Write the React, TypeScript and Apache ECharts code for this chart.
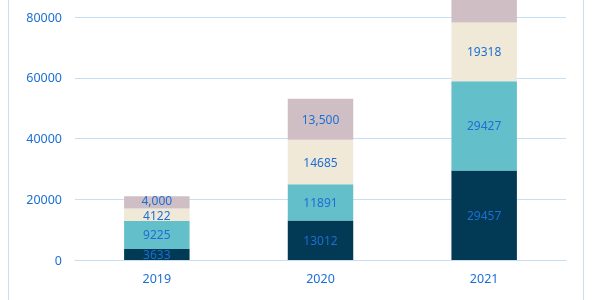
import React, { useEffect, useRef } from "react";
import * as echarts from "echarts";

const categories = ["2019", "2020", "2021"];
const seriesA = [3633, 13012, 29457];
const seriesB = [9225, 11891, 29427];
const seriesC = [4122, 14685, 19318];
const seriesD = [4000, 13500, 24000];
const yTicks = { min: 0, max: 80000, interval: 20000 };

const colors = ["#023a56", "#63bfca", "#f0e9d8", "#cfbfc5"];
const labelColor = "#1c6fd3";
const font = "'Noto Sans', 'Open Sans', sans-serif";

export default function App() {
  const ref = useRef<HTMLDivElement>(null);
  useEffect(() => {
    if (!ref.current) return;
    const chart = echarts.init(ref.current, null, { renderer: "svg" });
    const yMax = yTicks.max;
    const mk = (
      name: string,
      data: number[],
      i: number,
      comma: boolean,
      base: number[],
      nudge: number
    ) => ({
      name,
      type: "bar",
      stack: "total",
      data: data.map((v, k) => ({
        value: v,
        // a label whose centre lies above the plot top is off the page in the reference
        label: {
          show: base[k] + v / 2 <= yMax,
          // thin segments: spread neighbouring labels apart a little
          offset: [0, v < 6000 ? nudge : 0],
        },
      })),
      barWidth: "40%",
      clip: false,
      itemStyle: { color: colors[i] },
      label: {
        show: true,
        position: "inside",
        color: labelColor,
        fontSize: 12,
        lineHeight: 11,
        fontFamily: font,
        formatter: (p: any) =>
          comma ? Number(p.value).toLocaleString("en-US") : String(p.value),
      },
    });
    const zero = categories.map(() => 0);
    const baseB = seriesA.slice();
    const baseC = seriesA.map((v, k) => v + seriesB[k]);
    const baseD = baseC.map((v, k) => v + seriesC[k]);
    chart.setOption({
      animation: false,
      grid: { left: 75, right: 28, top: 17, bottom: 40 },
      xAxis: {
        type: "category",
        data: categories,
        axisLine: { show: true, lineStyle: { color: "#c5dff5" } },
        axisTick: { show: false },
        axisLabel: { color: labelColor, fontSize: 12.5, fontFamily: font, margin: 12 },
      },
      yAxis: {
        type: "value",
        min: yTicks.min,
        max: yTicks.max,
        interval: yTicks.interval,
        axisLine: { show: false },
        axisTick: { show: false },
        splitLine: { lineStyle: { color: "#c5dff5" } },
        axisLabel: {
          color: labelColor,
          fontSize: 12.5,
          fontFamily: font,
          margin: 13,
          formatter: (v: number) => String(v),
        },
      },
      graphic: [
        { type: "line", shape: { x1: 8.5, y1: 0, x2: 8.5, y2: 300 }, style: { stroke: "#c5dff5", lineWidth: 1 } },
        { type: "line", shape: { x1: 583.5, y1: 0, x2: 583.5, y2: 300 }, style: { stroke: "#c5dff5", lineWidth: 1 } },
      ],
      series: [
        mk("A", seriesA, 0, false, zero, 0),
        mk("B", seriesB, 1, false, baseB, 0),
        mk("C", seriesC, 2, false, baseC, 1),
        mk("D", seriesD, 3, true, baseD, -2),
      ],
    });
    return () => chart.dispose();
  }, []);
  return (
    <div
      ref={ref}
      style={{ position: "fixed", left: 0, top: 0, width: 594, height: 300 }}
    />
  );
}
